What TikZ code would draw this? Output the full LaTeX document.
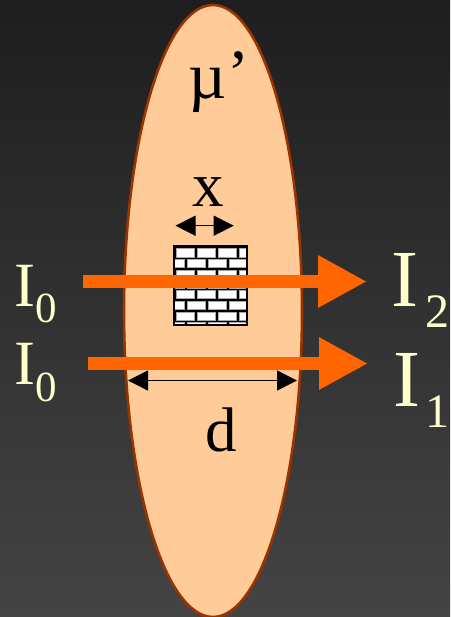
\documentclass[tikz,border=0pt]{standalone}
\usepackage{fontspec}
\setmainfont{Liberation Serif}
\usetikzlibrary{arrows.meta}
\definecolor{bgtop}{HTML}{1E1E1E}
\definecolor{bgbot}{HTML}{444444}
\definecolor{peach}{HTML}{FFCC99}
\definecolor{rim}{HTML}{993300}
\definecolor{beam}{HTML}{FF6600}
\definecolor{cream}{HTML}{FFFFCC}
\definecolor{brickedge}{HTML}{A8A8A8}
\tikzset{
  beamarrow/.style={draw=beam,line width=13pt,-{Triangle[length=49pt,width=49pt,color=beam]}},
  span/.style={draw=black,line width=1.5pt,{Triangle[length=20pt,width=20pt]}-{Triangle[length=20pt,width=20pt]}},
  inklabel/.style={text=black,inner sep=0pt,anchor=base},
  beamlabel/.style={text=cream,inner sep=0pt,anchor=base west},
  brick/.style={fill=white,draw=brickedge,line width=0.8pt},
}
\begin{document}
\begin{tikzpicture}[x=1pt,y=-1pt]
\useasboundingbox (0,0) rectangle (450,617);
\shade[top color=bgtop,bottom color=bgbot] (0,0) rectangle (450,617);
\begin{scope}
\clip (0,0) rectangle (450,617);
\draw[fill=peach,draw=rim,line width=2.6pt] (213,311) ellipse [x radius=89,y radius=306];
\end{scope}
% wall
\begin{scope}
\clip (174,246) rectangle (247,325);
\fill[black] (174,246) rectangle (247,325);
\foreach \yy/\off in {248.8/0,259.3/10.5,270/0,280/10.5,290.3/0,301/10.5,312/0,322.6/10.5}{
  \foreach \k in {-1,...,3}{
    \pgfmathsetmacro{\xa}{176.8+\k*21-\off}
    \pgfmathsetmacro{\xb}{\xa+18}
    \draw[brick] (\xa,\yy) rectangle (\xb,\yy+8.1);
  }
}
\end{scope}
\draw[black,line width=2pt] (174,246) rectangle (247,325);
% anchors
\coordinate (b2s) at (83,281.5);
\coordinate (b2e) at (367,281.5);
\coordinate (b1s) at (88,363.5);
\coordinate (b1e) at (368,363.5);
\coordinate (xs) at (175.5,225.7);
\coordinate (xe) at (233.7,225.7);
\coordinate (ds) at (128,380.5);
\coordinate (de) at (297,380.5);
\draw[beamarrow] (b2s) -- (b2e);
\draw[beamarrow] (b1s) -- (b1e);
\draw[span] (xs) -- (xe);
\draw[span] (ds) -- (de);
% labels
\node[inklabel,font=\fontsize{63}{63}\selectfont] (xl) at (208,206.5) {x};
\node[inklabel,font=\fontsize{63}{63}\selectfont] (dl) at (221.5,451) {d};
\node[inklabel,anchor=base west,font=\fontsize{66}{66}\selectfont] (mu) at (188,99) {µ};
\node[inklabel,anchor=base west,font=\fontsize{66}{66}\selectfont] (prime) at (227,96) {’};
\node[beamlabel,font=\fontsize{63}{63}\selectfont] (i0a) at (14,306) {I};
\node[beamlabel,font=\fontsize{43}{43}\selectfont] (s0a) at (35,322) {0};
\node[beamlabel,font=\fontsize{63}{63}\selectfont] (i0b) at (14,384) {I};
\node[beamlabel,font=\fontsize{43}{43}\selectfont] (s0b) at (35,401) {0};
\node[beamlabel,font=\fontsize{81}{81}\selectfont] (i2) at (391,306) {I};
\node[beamlabel,font=\fontsize{48}{48}\selectfont] (s2) at (425,327) {2};
\node[beamlabel,font=\fontsize{81}{81}\selectfont] (i1) at (393,406) {I};
\node[beamlabel,font=\fontsize{48}{48}\selectfont] (s1) at (425,427) {1};
\end{tikzpicture}
\end{document}
